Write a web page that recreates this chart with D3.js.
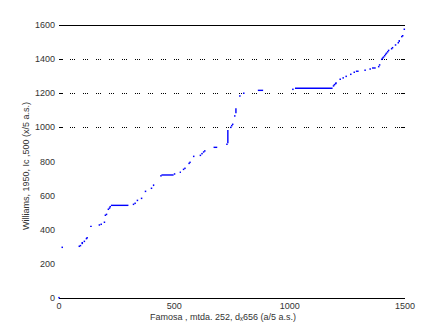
<!DOCTYPE html>
<html>
<head>
<meta charset="utf-8">
<script src="https://cdn.jsdelivr.net/npm/d3@7"></script>
<style>
  html, body { margin: 0; padding: 0; background: #fff; }
  svg text { font-family: "Liberation Sans", Arial, sans-serif; font-size: 9px; fill: #333; }
</style>
</head>
<body>
<svg id="chart" width="447" height="335"></svg>
<script>
// axis setup
const xTicks = [0, 500, 1000, 1500];
const yTicks = [0, 200, 400, 600, 800, 1000, 1200, 1400, 1600];
const gridValues = [1000, 1200, 1400];
const xLabel = 'Famosa , mtda. 252, d\u2093656 (a/5 a.s.)';
const yLabel = 'Williams, 1950, Ic ,500 (x/5 a.s.)';

// single scattered points [x, y]
const points = [
    [0, 2], [14, 297], [88, 303], [93, 307], [101, 320], [101, 324], [110, 332],
    [119, 348], [122, 353], [175, 428], [183, 432], [197, 444], [201, 485], [206, 490],
    [214, 520], [219, 527], [222, 535], [323, 549], [330, 555], [340, 572], [358, 584],
    [375, 625], [401, 643], [442, 716], [501, 727], [540, 754], [546, 760], [564, 789],
    [568, 795], [584, 830], [613, 836], [620, 846], [627, 856], [632, 862], [728, 901],
    [745, 1000], [749, 1010], [753, 1018], [762, 1067], [784, 1184], [801, 1200],
    [1014, 1223], [1190, 1243], [1194, 1250], [1199, 1256], [1201, 1260], [1219, 1282],
    [1232, 1290], [1245, 1299], [1265, 1311], [1280, 1323], [1327, 1335], [1349, 1342],
    [1386, 1356], [1390, 1366], [1399, 1399], [1403, 1406], [1407, 1412], [1412, 1420],
    [1416, 1428], [1420, 1435], [1425, 1443], [1429, 1451], [1442, 1461], [1446, 1467],
    [1459, 1483], [1471, 1496], [1486, 1532], [1490, 1537], [1497, 1575]
];

// flat runs [xStart, xEnd, y]
const flatRuns = [
    [135, 142, 420], [225, 301, 543], [444, 497, 721], [523, 529, 737],
    [670, 686, 883], [862, 885, 1217], [1023, 1186, 1229], [1287, 1299, 1329],
    [1357, 1373, 1348]
];

// steep runs [x, yStart, yEnd]
const steepRuns = [
    [410, 656, 666], [732, 907, 985], [767, 1083, 1112], [1475, 1500, 1512]
];

const svg = d3.select('#chart');
const x = d3.scaleLinear().domain([0, 1500]).range([59, 405]);
const y = d3.scaleLinear().domain([0, 1600]).range([298, 25]);

// gridlines (dotted) with short solid ticks at both ends
gridValues.forEach(v => {
    svg.append('line')
        .attr('x1', x(0) + 4).attr('x2', x(1500) - 4)
        .attr('y1', Math.round(y(v)) + 0.5).attr('y2', Math.round(y(v)) + 0.5)
        .attr('stroke', '#000').attr('stroke-width', 1)
        .attr('stroke-dasharray', '1,1,1,1,1,8')
        .attr('stroke-dashoffset', -7);
    [[x(0), x(0) + 4], [x(1500) - 4, x(1500)]].forEach(([a, b]) => {
        svg.append('line')
            .attr('x1', a).attr('x2', b)
            .attr('y1', Math.round(y(v)) + 0.5).attr('y2', Math.round(y(v)) + 0.5)
            .attr('stroke', '#000').attr('stroke-width', 1);
    });
});

// bottom axis and top frame line
[0, 1600].forEach(v => {
    svg.append('line')
        .attr('x1', x(0)).attr('x2', x(1500))
        .attr('y1', Math.round(y(v)) + 0.5).attr('y2', Math.round(y(v)) + 0.5)
        .attr('stroke', '#000').attr('stroke-width', 1.2);
});

// tick labels
svg.selectAll('text.xt')
    .data(xTicks)
    .enter().append('text')
    .attr('class', 'xt')
    .attr('x', d => x(d))
    .attr('y', 309)
    .attr('text-anchor', 'middle')
    .text(d => d);

svg.selectAll('text.yt')
    .data(yTicks)
    .enter().append('text')
    .attr('class', 'yt')
    .attr('x', 55)
    .attr('y', d => y(d) + 3)
    .attr('text-anchor', 'end')
    .text(d => d);

// axis titles
svg.append('text')
    .attr('x', 223).attr('y', 320)
    .attr('text-anchor', 'middle')
    .text(xLabel);

svg.append('text')
    .attr('transform', 'translate(29,166) rotate(-90)')
    .attr('text-anchor', 'middle')
    .text(yLabel);

// data marks
const blue = '#0000ff';
svg.selectAll('rect.pt')
    .data(points)
    .enter().append('rect')
    .attr('class', 'pt')
    .attr('x', d => x(d[0]) - 0.75)
    .attr('y', d => y(d[1]) - 0.75)
    .attr('width', 1.5)
    .attr('height', 1.5)
    .attr('fill', blue);

svg.selectAll('line.flat')
    .data(flatRuns)
    .enter().append('line')
    .attr('class', 'flat')
    .attr('x1', d => x(d[0])).attr('x2', d => x(d[1]))
    .attr('y1', d => y(d[2])).attr('y2', d => y(d[2]))
    .attr('stroke', blue).attr('stroke-width', 1.4);

svg.selectAll('line.steep')
    .data(steepRuns)
    .enter().append('line')
    .attr('class', 'steep')
    .attr('x1', d => x(d[0])).attr('x2', d => x(d[0]))
    .attr('y1', d => y(d[1])).attr('y2', d => y(d[2]))
    .attr('stroke', blue).attr('stroke-width', 1.4);
</script>
</body>
</html>
